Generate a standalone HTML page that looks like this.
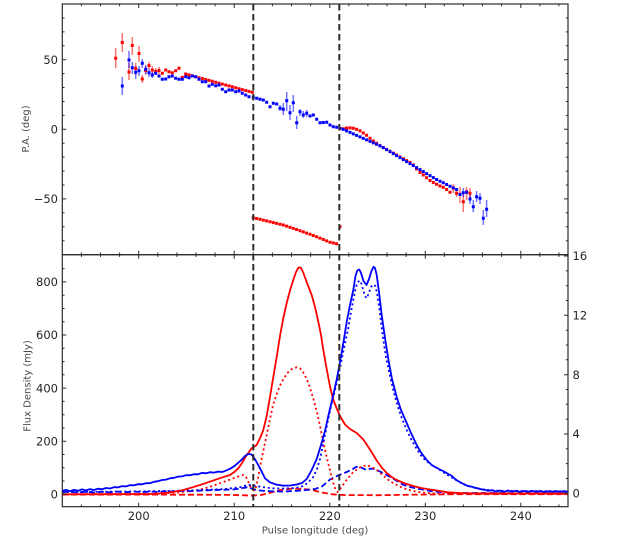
<!DOCTYPE html>
<html><head><meta charset="utf-8"><style>
html,body{margin:0;padding:0;background:#fff;}
svg{display:block;}
text{font-family:"DejaVu Sans","Liberation Sans",sans-serif;}
</style></head><body>
<svg width="630" height="544" viewBox="0 0 630 544" xmlns="http://www.w3.org/2000/svg">
<defs>
<clipPath id="cl"><rect x="62.3" y="254.7" width="505.7" height="252"/></clipPath>
<clipPath id="ct"><rect x="62.3" y="4" width="505.7" height="250.7"/></clipPath>
</defs>
<rect width="630" height="544" fill="#fff"/>

<!-- TOP PANEL: error bars -->
<g clip-path="url(#ct)" fill="none">
<path stroke="#ff0000" stroke-opacity="0.55" stroke-width="1.5" d="M115.7 48V68M122.3 33V52M129 63V80M132.3 37V55M135.7 63V75M139 46V62M142.3 75V83M145.7 66V75M149 62V69M152.3 66V73M155.7 68V75M159 67V74M453.3 184V193M460 187V203M463.3 192V212M466.6 187V200M470 188V198M456.6 190V197"/>
<path stroke="#0000ff" stroke-opacity="0.55" stroke-width="1.5" d="M122.3 77V95M129 51V68M132.3 62V74M135.7 66V79M139 66V76M142.3 59V68M145.7 65V74M149 69V77M152.3 72V78M283.3 103V115M286.7 92V111M290 105V120M293.3 95V112M296.7 116V129M300 109V116M303.3 111V118M306.7 110V117M280 105V111M463.3 188V197M470 194V204M473.3 200V212M476.6 191V202M480 193V204M483.3 210V225M486.6 200V217"/>
<!-- red dots -->
<path stroke="#ff0000" stroke-width="3" stroke-linecap="square" d="M115.7 58.3h0M122.3 42.5h0M129 72h0M132.3 45.5h0M135.7 68.5h0M139 53.5h0M142.3 79h0M145.7 70.5h0M149 65.5h0M152.3 70h0M155.7 71.5h0M159 70.5h0M162.3 73.3h0M165.7 70h0M169 71.7h0M172.3 72.7h0M175.7 70.7h0M179 68.3h0M182.3 77.3h0M185.7 74h0M189 74.9h0M192.4 75.8h0M195.7 76.8h0M199 77.7h0M202.4 78.6h0M205.7 79.5h0M209 80.4h0M212.3 81.3h0M215.7 82.3h0M219 83.2h0M222.3 84.1h0M225.7 85h0M229 85.9h0M232.3 86.8h0M235.7 87.8h0M239 88.7h0M242.3 89.6h0M245.7 90.5h0M249 91.4h0M252.3 92.3h0M253.3 217.7h0M256.6 218.5h0M260 219.3h0M263.3 220.1h0M266.6 220.9h0M270 221.8h0M273.3 222.6h0M276.6 223.4h0M280 224.2h0M283.3 225h0M286.6 226.1h0M290 227.3h0M293.3 228.4h0M296.6 229.5h0M300 230.7h0M303.3 231.9h0M306.6 233.1h0M310 234.3h0M313.3 235.5h0M316.6 236.7h0M320 238.1h0M323.3 239.5h0M326.6 240.9h0M330 242.3h0M333.3 243h0M336.6 243.7h0M340 226.7h0M343.3 128.8h0M346.6 128h0M350 127.9h0M353.3 128.3h0M356.6 129.3h0M360 130.8h0M363.3 133h0M366.6 135.3h0M370 138.2h0M373.3 141h0M376.6 143.3h0M380 145.6h0M383.3 147.6h0M386.6 149.4h0M390 151.2h0M393.3 153.1h0M396.6 155h0M400 156.9h0M403.3 158.8h0M406.6 160.6h0M410 162.4h0M413.3 165h0M416.6 169h0M420 172.5h0M423.3 175h0M426.6 177.8h0M430 180.5h0M433.3 182.5h0M436.6 184.2h0M440 186h0M443.3 187.3h0M446.6 189.5h0M450 192.2h0M453.3 188.3h0M456.6 193.3h0M460 194.3h0M463.3 201.7h0M466.6 191.7h0M470 193.3h0"/>
<!-- blue dots -->
<path stroke="#0000ff" stroke-width="3" stroke-linecap="square" d="M122.3 86h0M129 60h0M132.3 67.7h0M135.7 72.3h0M139 70.7h0M142.3 63.3h0M145.7 69.3h0M149 72.7h0M152.3 75h0M155.7 73.3h0M159 76h0M162.3 79.3h0M165.7 79h0M169 76.7h0M172.3 76h0M175.7 78.3h0M179 79.3h0M182.3 79.3h0M185.7 76.7h0M189 77.7h0M192.3 76h0M195.7 76.7h0M199 79.3h0M202.3 81.7h0M205.7 81.7h0M209 86h0M212.3 84.3h0M215.7 85.7h0M219 85h0M222.3 89.3h0M225.7 91.7h0M229 90h0M232.3 90h0M235.7 91.7h0M239 91h0M242.3 93.3h0M245.7 95h0M249 96.7h0M253.3 97.3h0M256.7 98.3h0M260 99.3h0M263.3 100h0M266.7 102.3h0M270 106.7h0M273.3 103.3h0M276.7 104h0M280 108.3h0M283.3 109.3h0M286.7 100.7h0M290 112.7h0M293.3 102.7h0M296.7 122.7h0M300 111.7h0M303.3 115h0M306.7 113.3h0M310 116h0M313.3 115h0M316.7 119.3h0M320 122.7h0M323.3 122.5h0M326.7 122.3h0M330 125h0M333.3 126.7h0M336.7 127.3h0M340 128.5h0M343.3 129.4h0M346.6 130.9h0M350 132.4h0M353.3 133.9h0M356.6 135.4h0M360 136.9h0M363.3 138.4h0M366.6 139.9h0M370 141.4h0M373.3 142.9h0M376.6 144.3h0M380 145.9h0M383.3 147.6h0M386.6 149.6h0M390 151.6h0M393.3 153.6h0M396.6 155.6h0M400 157.6h0M403.3 159.6h0M406.6 161.6h0M410 163.6h0M413.3 165.6h0M416.6 167.6h0M420 169.6h0M423.3 171.6h0M426.6 173.6h0M430 175.6h0M433.3 177.6h0M436.6 179.5h0M440 181.2h0M443.3 182.8h0M446.6 184.5h0M450 186.2h0M453.3 187.9h0M456.6 189.5h0M460 194.5h0M463.3 192.7h0M466.6 192.3h0M470 199h0M473.3 206.7h0M476.6 196.7h0M480 198.3h0M483.3 218.3h0M486.6 209.3h0"/>
</g>

<!-- LOWER PANEL curves -->
<g clip-path="url(#cl)" fill="none" stroke-width="1.8" stroke-linejoin="round">
<polyline stroke="#ff0000" stroke-dasharray="6,3" points="62,494.6 120,494.6 200,494.7 230,494.9 253,495.6 262,494.8 272,492.3 282,489.8 292,488.6 302,488.8 312,490 322,492.5 332,494.3 345,495.1 380,495.2 420,494.6 460,494.2 568,494.2"/>
<polyline stroke="#0000ff" stroke-dasharray="6,3" points="62,492.3 70,491.6 78,492.6 86,491.8 94,492.5 102,491.7 110,492.4 118,491.6 126,492.3 134,491.5 142,492.2 150,491.6 158,491.9 166,491.2 174,491.6 182,490.9 190,491.2 200,490.6 210,490.2 220,489.8 228,489.6 234,489.4 240,488.6 244,487.8 247,487.3 250,488 254,489.4 260,490.5 270,491.2 283,491.6 296.7,490.8 306,490 315,489 322,486.5 330,479.5 338,475.5 346.7,472 352,469.5 356,467 359,466.3 362,468 366.7,470 370,468.8 373,468.6 377,470.2 383,473 390,476.8 397,481 403.3,484.8 410,487 416.7,488.5 425,490 432,491.2 440,492 450,492.6 460,493 568,493.2"/>
<polyline stroke="#ff0000" stroke-dasharray="2,2.8" points="62,494.3 150,494.1 180,492.3 200,489.6 210,486.8 220,483.2 230,479.6 238,476.6 243.3,475 246,477 248,481 250,486 252,489.5 254,490.5 256,487 258,479 260,467 263.3,451 266.7,435 270,419 273.3,404 276.7,394 280,385.5 284,378 288.3,372 292.5,368.5 296.7,367.3 300,368.3 303.3,372.5 306.7,379 310,388 313.3,398.5 316.7,411.5 320,426 323.3,442 326.7,457 330,470.5 333,482 335.5,489.5 337.5,492 339.5,490 341.5,487 343.3,484.5 348,478 353.3,472 360,467.3 366.7,465.2 371,466.5 376.7,470 383,475.5 390,481.3 396.7,485 403.3,488.2 412,490.8 420,492.3 432,493.4 445,493.8 568,494"/>
<polyline stroke="#0000ff" stroke-dasharray="2,2.8" points="62,492 120,491.6 180,490.8 200,490.2 225,489 240,487.2 246,485.5 250,485 255,485.8 262,487 272,488.3 282,488.6 292,488.2 300,487.2 305,485 309,481.5 313.3,477 317,469 320,459 324,440 328,420 332,402 336,386 340,368 344,348 348.3,328 351,312 353.3,300 355.5,289 357.3,283 359.3,280.5 361,282.5 363,289 365,296 366.7,298.3 368.5,294 371,287 373.3,284.5 375.3,286 377,293 379,306 381,322 383.3,340 386,357 390,376 393,389 396.7,403 401,416 406.7,430 411,439 416.7,449 422,457 430,464 436,467.5 442,471.5 448,475.2 455,479.5 462,483.5 470,486.5 478,488.6 488,490 500,490.8 568,491.3"/>
<polyline stroke="#ff0000" points="62,494.3 150,494 160,493.4 166.7,492.8 175,491.6 183.3,490 191,487.8 200,485 208,482.3 216.7,479.3 223,477.2 230,475 235,471.5 238.3,468.3 242,463 246.7,455 251.7,448.3 256.7,445 261,436 263.3,430 266.7,416 270,397 273.3,377 276.7,357 280,336 283.3,318 286.7,303 290,290.5 293.3,280 296,272 298,268.3 299.5,267.3 301,268 303,272 305,277.5 308,285.5 311.7,295 315,307 318.3,321.5 321,335 323.3,350 326.5,368 330,386.5 333,399 336.7,408.5 340,416 345,424.5 350,429 356.7,433 363.3,439.5 370,449.5 376.7,460.5 381.7,467.5 386.7,473 391.7,477 396.7,480 405,483.5 413.3,486 421,488 430,489.5 440,491 448,492.3 460,493 475,493.4 568,493.5"/>
<polyline stroke="#0000ff" points="62,491 66,489.8 70,491.2 74,489.9 78,490.8 82,489.4 86,490.4 90,489.1 94,490 98,488.7 102,489.3 106,488 110,488.5 114,487.2 118,487.4 122,486.2 126,486.4 130,485.2 134,485.3 138,484.2 142,484.3 146,483.2 150,483.2 154,481.8 158,481.2 162,480 166,479.6 170,478.3 174,477.8 178,476.6 182,476.4 186,475.2 190,475.2 194,474.2 198,474.3 202,472.9 206,473.3 210,472.2 214,472.6 218,471.6 222,472 226,470.6 230,468.8 234,466.3 238,463 242,459.3 245,456 248.3,454 251,454.3 253.3,456.7 256,461 260,468.3 265,478.3 270,482.3 276,484.5 283.3,485.7 290,485.5 296.7,484.5 302,483 306.7,479 311.7,470 316.7,459 321,445 325,431 329,413 333.3,395 337,378 340,362 343.5,342 346.7,322 350,305 353.3,290 355.5,276 357.3,270.5 359.3,269.5 361,273 363.5,281 366.5,285 369,279 371.5,271 373.5,266.8 375,268 376.7,275 379,292 381.7,315 385,338 388.3,359 392,379 396.7,397 401,410 406.7,423 411,433 416.7,445 421,452.5 426.7,460 431.7,465 436,467.5 440,469.5 444,471.5 448.3,474 452,476 455,479 458,481 461.7,483 465,484.8 468,486 472,486.7 475,487.8 478,488.3 482,489.5 485,489.8 488,490.8 492,490.2 496,491.5 500,490.6 504,491.8 508,490.5 512,491.6 516,490.8 520,491.9 524,491 528,491.8 532,490.9 536,491.7 540,491 544,491.9 548,491.2 552,491.7 556,491.1 560,491.8 564,491.2 568,491.6"/>
</g>

<!-- vertical dashed lines -->
<g stroke="#2d2d2d" stroke-width="2" stroke-dasharray="6.5,3.5" fill="none">
<path d="M253.3 4V506.7M339.3 4V506.7"/>
</g>

<!-- frames -->
<g fill="none" stroke="#2b2b2b" stroke-width="1.2">
<rect x="62.3" y="4" width="505.7" height="250.7"/>
<rect x="62.3" y="254.7" width="505.7" height="252"/>
</g>

<!-- ticks -->
<g stroke="#2b2b2b" stroke-width="1" fill="none">
<path d="M138.7 4v4M234.2 4v4M329.8 4v4M425.3 4v4M520.8 4v4M138.7 254.7v-4M234.2 254.7v-4M329.8 254.7v-4M425.3 254.7v-4M520.8 254.7v-4M138.7 254.7v4M234.2 254.7v4M329.8 254.7v4M425.3 254.7v4M520.8 254.7v4M138.7 506.7v-4M234.2 506.7v-4M329.8 506.7v-4M425.3 506.7v-4M520.8 506.7v-4"/>
<path d="M81.4 4v2.2M100.5 4v2.2M119.6 4v2.2M157.8 4v2.2M176.9 4v2.2M196 4v2.2M215.1 4v2.2M253.3 4v2.2M272.4 4v2.2M291.5 4v2.2M310.6 4v2.2M348.8 4v2.2M367.9 4v2.2M387 4v2.2M406.1 4v2.2M444.3 4v2.2M463.4 4v2.2M482.5 4v2.2M501.6 4v2.2M539.8 4v2.2M558.9 4v2.2"/>
<path d="M81.4 252.5v4.4M100.5 252.5v4.4M119.6 252.5v4.4M157.8 252.5v4.4M176.9 252.5v4.4M196 252.5v4.4M215.1 252.5v4.4M253.3 252.5v4.4M272.4 252.5v4.4M291.5 252.5v4.4M310.6 252.5v4.4M348.8 252.5v4.4M367.9 252.5v4.4M387 252.5v4.4M406.1 252.5v4.4M444.3 252.5v4.4M463.4 252.5v4.4M482.5 252.5v4.4M501.6 252.5v4.4M539.8 252.5v4.4M558.9 252.5v4.4"/>
<path d="M81.4 506.7v-2.2M100.5 506.7v-2.2M119.6 506.7v-2.2M157.8 506.7v-2.2M176.9 506.7v-2.2M196 506.7v-2.2M215.1 506.7v-2.2M253.3 506.7v-2.2M272.4 506.7v-2.2M291.5 506.7v-2.2M310.6 506.7v-2.2M348.8 506.7v-2.2M367.9 506.7v-2.2M387 506.7v-2.2M406.1 506.7v-2.2M444.3 506.7v-2.2M463.4 506.7v-2.2M482.5 506.7v-2.2M501.6 506.7v-2.2M539.8 506.7v-2.2M558.9 506.7v-2.2"/>
<path d="M62.3 59.7h4M62.3 129.3h4M62.3 198.9h4M568 59.7h-4M568 129.3h-4M568 198.9h-4"/>
<path d="M62.3 18h2.2M62.3 31.9h2.2M62.3 45.8h2.2M62.3 73.6h2.2M62.3 87.5h2.2M62.3 101.5h2.2M62.3 115.4h2.2M62.3 143.2h2.2M62.3 157.1h2.2M62.3 171.1h2.2M62.3 185h2.2M62.3 212.8h2.2M62.3 226.7h2.2M62.3 240.7h2.2M568 18h-2.2M568 31.9h-2.2M568 45.8h-2.2M568 73.6h-2.2M568 87.5h-2.2M568 101.5h-2.2M568 115.4h-2.2M568 143.2h-2.2M568 157.1h-2.2M568 171.1h-2.2M568 185h-2.2M568 212.8h-2.2M568 226.7h-2.2M568 240.7h-2.2"/>
<path d="M62.3 494.3h4M62.3 441.2h4M62.3 388.1h4M62.3 335h4M62.3 281.9h4"/>
<path d="M62.3 481h2.2M62.3 467.8h2.2M62.3 454.5h2.2M62.3 427.9h2.2M62.3 414.7h2.2M62.3 401.4h2.2M62.3 374.8h2.2M62.3 361.6h2.2M62.3 348.3h2.2M62.3 321.7h2.2M62.3 308.5h2.2M62.3 295.2h2.2M62.3 268.6h2.2"/>
<path d="M568 493.3h-4M568 434h-4M568 374.7h-4M568 315.3h-4M568 256h-4"/>
<path d="M568 478.5h-2.2M568 463.6h-2.2M568 448.8h-2.2M568 419.2h-2.2M568 404.3h-2.2M568 389.5h-2.2M568 359.8h-2.2M568 345h-2.2M568 330.2h-2.2M568 300.5h-2.2M568 285.7h-2.2M568 270.9h-2.2"/>
</g>

<!-- tick labels -->
<g fill="#262626" font-size="11.5">
<g text-anchor="end">
<text x="58" y="63.9">50</text>
<text x="58" y="133.5">0</text>
<text x="58" y="203.1">−50</text>
<text x="58" y="286.1">800</text>
<text x="58" y="339.2">600</text>
<text x="58" y="392.3">400</text>
<text x="58" y="445.4">200</text>
<text x="58" y="498.5">0</text>
</g>
<g text-anchor="start">
<text x="572.5" y="260.2">16</text>
<text x="572.5" y="319.5">12</text>
<text x="572.5" y="378.9">8</text>
<text x="572.5" y="438.2">4</text>
<text x="572.5" y="497.5">0</text>
</g>
<g text-anchor="middle">
<text x="138.7" y="520.2">200</text>
<text x="234.2" y="520.2">210</text>
<text x="329.8" y="520.2">220</text>
<text x="425.3" y="520.2">230</text>
<text x="520.8" y="520.2">240</text>
</g>
</g>

<!-- axis labels -->
<g fill="#4a4a4a" font-size="10" text-anchor="middle">
<text x="315" y="533.6">Pulse longitude (deg)</text>
<text transform="translate(29,129) rotate(-90)">P.A. (deg)</text>
<text transform="translate(30.5,386) rotate(-90)">Flux Density (mJy)</text>
</g>
</svg>
</body></html>
